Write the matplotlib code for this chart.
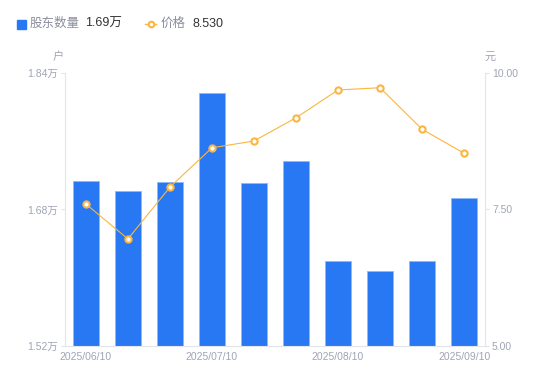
import matplotlib
matplotlib.use("Agg")
import matplotlib.pyplot as plt
import numpy as np

plt.rcParams['font.family'] = ['Liberation Sans', 'Noto Sans CJK SC', 'DejaVu Sans']

# data
dates = ["2025/06/10", "", "", "2025/07/10", "", "", "2025/08/10", "", "", "2025/09/10"]
holders = [1.713, 1.702, 1.712, 1.817, 1.711, 1.737, 1.620, 1.608, 1.620, 1.6935]   # 万户
price = [7.60, 6.96, 7.91, 8.63, 8.755, 9.18, 9.69, 9.73, 8.97, 8.53]               # 元

BLUE = "#2878f4"
ORANGE = "#fbb540"
GREY = "#a0a4b5"
AXIS = "#e3e5ea"

fig = plt.figure(figsize=(5.5, 3.81), dpi=100)
ax = fig.add_axes([0.118, 0.0919, 0.764, 0.7165])
ax2 = ax.twinx()

x = np.arange(len(holders))
ax.bar(x, holders, width=0.6, color=BLUE, edgecolor="#8fb8f8", linewidth=0.6, zorder=2)
ax.set_xlim(-0.5, len(holders) - 0.5)
ax.set_ylim(1.52, 1.84)
ax.set_yticks([1.52, 1.68, 1.84])
ax.set_yticklabels(["1.52万", "1.68万", "1.84万"])

ax2.plot(x, price, color=ORANGE, lw=0.8, marker="o", ms=4.5, mfc="white",
         mec=ORANGE, mew=1.5, zorder=3)
ax2.set_ylim(5, 10)
ax2.set_yticks([5, 7.5, 10])
ax2.set_yticklabels(["5.00", "7.50", "10.00"])

ax.set_xticks(x)
ax.set_xticklabels(dates)
ax.tick_params(axis="x", length=0, colors=GREY, labelsize=7.5, pad=4)
ax.tick_params(axis="y", length=3, width=0.8, color=AXIS, colors=GREY, labelsize=7.5, pad=2)
ax2.tick_params(axis="y", length=3, width=0.8, color=AXIS, colors=GREY, labelsize=7.5, pad=2)
for a in (ax, ax2):
    for s in a.spines.values():
        s.set_visible(False)
ax.spines["left"].set_visible(True)
ax.spines["bottom"].set_visible(True)
ax2.spines["right"].set_visible(True)
ax.spines["left"].set_color(AXIS)
ax.spines["bottom"].set_color(AXIS)
ax2.spines["right"].set_color(AXIS)
ax2.set_zorder(ax.get_zorder() + 1)
ax2.patch.set_visible(False)

# unit labels
fig.text(58 / 550, 1 - 57 / 381, "户", color=GREY, fontsize=8, ha="center", va="center")
fig.text(490 / 550, 1 - 57 / 381, "元", color=GREY, fontsize=8, ha="center", va="center")

# legend row
ly = 1 - 24 / 381
fig.patches.append(plt.Rectangle((17 / 550, 1 - 29 / 381), 9 / 550, 9 / 381,
                                 transform=fig.transFigure, color=BLUE))
fig.text(30 / 550, ly, "股东数量", color="#8a8e9e", fontsize=9, va="center")
fig.text(85 / 550, ly, "1.69万", color="#333333", fontsize=9, va="center")
fig.lines.append(plt.Line2D([145 / 550, 156 / 550], [ly, ly], transform=fig.transFigure,
                            color=ORANGE, lw=1, marker="o", markevery=[0], ms=0))
fig.lines.append(plt.Line2D([150.5 / 550], [ly], transform=fig.transFigure,
                            color=ORANGE, marker="o", ms=4, mfc="white", mew=1.5))
fig.text(161 / 550, ly, "价格", color="#8a8e9e", fontsize=9, va="center")
fig.text(192 / 550, ly, "8.530", color="#333333", fontsize=9, va="center")

fig.savefig("out.png", dpi=100)
